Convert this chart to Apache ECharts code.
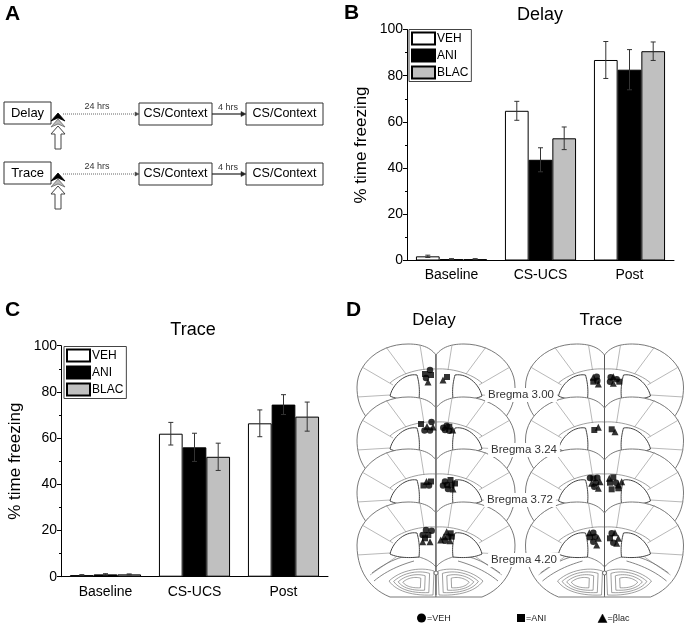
<!DOCTYPE html>
<html>
<head>
<meta charset="UTF-8">
<title></title>
<style>
	* { margin: 0; padding: 0; }
	html, body { width: 100%; height: 100%; background: #fff; overflow: hidden; }
	#main { width: 692px; height: 625px; }
</style>
</head>
<body>
<div id="main"></div>
<script src="https://cdn.jsdelivr.net/npm/echarts@6/dist/echarts.min.js"></script>
<script>
	// ---- B / C : % time freezing ----
	var categories = ['Baseline', 'CS-UCS', 'Post'];
	var groups = ['VEH', 'ANI', 'BLAC'];
	var groupColors = ['#ffffff', '#000000', '#c0c0c0'];
	var yTicks = [0, 20, 40, 60, 80, 100];

	var delayVEH = [1.8, 64.8, 86.8];
	var delayANI = [0.6, 43.6, 82.6];
	var delayBLAC = [0.6, 52.9, 90.6];
	var delayVEHErr = [0.5, 4.1, 8.0];
	var delayANIErr = [0.2, 5.2, 8.7];
	var delayBLACErr = [0.2, 4.9, 4.0];

	var traceVEH = [0.7, 61.9, 66.4];
	var traceANI = [1.0, 56.0, 74.5];
	var traceBLAC = [1.0, 51.9, 69.3];
	var traceVEHErr = [0.2, 4.9, 5.8];
	var traceANIErr = [0.3, 6.1, 4.3];
	var traceBLACErr = [0.2, 5.9, 6.3];

	// ---- D : cannula sites (panel units, px from panel corner) ----
	var vehSites = [
		[90, 75], [86, 83],
		[91.5, 127], [84.5, 135.5], [90, 135.5], [106.7, 130.7], [105, 135], [109.3, 135.7], [103.3, 132.7],
		[89, 190.5], [105, 186.5], [107, 190], [108, 194], [103, 190.5],
		[86, 235], [91.7, 235.7], [82.7, 240], [108.3, 241.7], [105, 245.7],
		[256.7, 81.7], [257.3, 85.7], [270.7, 82.3], [270, 86.7], [276.7, 84.3],
		[250, 183], [257.3, 182.7], [256, 187.7], [254.3, 191.7], [276, 187.7],
		[253.3, 237.7], [255, 241.7], [253.3, 246.7], [271.7, 238.3], [273.3, 247.7]
	];
	var aniSites = [
		[91, 80], [85, 79], [107, 82],
		[81, 129], [109.3, 131.7],
		[83.5, 190.5], [91, 186.5], [110.5, 185], [111.5, 190.5], [115, 188.5],
		[88.3, 240], [85, 243.3], [110.7, 238.3], [111.7, 241.7],
		[253.3, 86.7], [279.3, 86.7],
		[254.3, 135], [271.7, 134.3],
		[253.3, 183.3], [273.3, 182.3], [270, 187.7], [271.7, 194.3], [278.3, 193.3],
		[250, 242.3], [270, 243.3]
	];
	var blacSites = [
		[88, 87], [103, 85],
		[87, 131.5], [93, 132], [112.7, 135],
		[86.5, 186.5], [113, 194],
		[82.7, 246.7], [90, 246.7], [106.7, 236.7], [104, 241.7], [100.7, 245], [110, 245.7],
		[253.3, 82.3], [258.3, 89], [273.3, 81.7], [273.3, 88.3],
		[258.3, 132.3], [275, 136.7],
		[251.7, 188.3], [260, 186.7], [258.3, 193.3], [269.3, 183.3], [281.7, 186.7], [278.3, 190],
		[249.3, 237.7], [258.3, 243.3], [256.7, 250], [275, 237.7], [278.3, 243.3], [276.7, 248.3]
	];
	var sectionMid = [96, 264.5];            // Delay, Trace midlines
	var sectionTop = [80, 133, 185, 238];    // level of the lobes, per section
	var bregma = ['Bregma 3.00', 'Bregma 3.24', 'Bregma 3.72', 'Bregma 4.20'];

	var FONT = '"Liberation Sans", Arial, sans-serif';
	var BAR_W = 23.7;

	var chart = echarts.init(document.getElementById('main'));

	function barSeries(name, data, k, gi) {
		return {
			name: name, type: 'bar', xAxisIndex: gi, yAxisIndex: gi,
			data: data, barWidth: BAR_W, barGap: '0%',
			itemStyle: { color: groupColors[k], borderColor: '#000', borderWidth: 1 },
			silent: true
		};
	}

	function errSeries(name, vals, errs, k, gi) {
		return {
			name: name + ' err', type: 'custom', xAxisIndex: gi, yAxisIndex: gi,
			encode: { x: 0, y: 1 },
			data: vals.map(function(v, i) { return [i, v, errs[i]]; }),
			renderItem: function(params, api) {
				var i = api.value(0), v = api.value(1), e = api.value(2);
				var hi = api.coord([i, v + e]);
				var lo = api.coord([i, v - e]);
				var x = hi[0] + (k - 1) * BAR_W;
				var c = 2.5;
				var st = { stroke: '#333', lineWidth: 1 };
				return {
					type: 'group',
					children: [
						{ type: 'line', shape: { x1: x, y1: hi[1], x2: x, y2: lo[1] }, style: st },
						{ type: 'line', shape: { x1: x - c, y1: hi[1], x2: x + c, y2: hi[1] }, style: st },
						{ type: 'line', shape: { x1: x - c, y1: lo[1], x2: x + c, y2: lo[1] }, style: st }
					]
				};
			},
			z: 3,
			silent: true
		};
	}

	function xAx(gi) {
		return {
			gridIndex: gi, type: 'category', data: categories,
			axisLine: { lineStyle: { color: '#000', width: 1 } },
			axisTick: { length: 4, lineStyle: { color: '#000' } },
			axisLabel: { fontSize: 14, color: '#000', margin: 8, fontFamily: FONT }
		};
	}

	function yAx(gi) {
		return {
			gridIndex: gi, type: 'value',
			min: yTicks[0], max: yTicks[yTicks.length - 1], interval: yTicks[1] - yTicks[0],
			name: '% time freezing', nameLocation: 'middle', nameGap: 37,
			nameTextStyle: { fontSize: 17, color: '#000', fontFamily: FONT },
			axisLine: { show: true, lineStyle: { color: '#000', width: 1 } },
			axisTick: { show: true, length: 4, lineStyle: { color: '#000' } },
			minorTick: { show: true, splitNumber: 2, length: 2, lineStyle: { color: '#000' } },
			splitLine: { show: false },
			axisLabel: { fontSize: 14, color: '#000', margin: 4, fontFamily: FONT }
		};
	}

	function legendAt(left, top) {
		return {
			data: groups, orient: 'vertical', left: left, top: top,
			icon: 'rect', itemWidth: 23, itemHeight: 12, itemGap: 3,
			padding: [2, 3, 2, 2],
			borderColor: '#444', borderWidth: 1,
			selectedMode: false,
			textStyle: { fontSize: 12, color: '#000', fontFamily: FONT, padding: [0, 0, 0, -3] }
		};
	}

	function siteSeries(name, symbol, data, size) {
		return {
			name: name, type: 'scatter', xAxisIndex: 2, yAxisIndex: 2,
			symbol: symbol, symbolSize: size, data: data,
			itemStyle: { color: '#000' }, z: 5, silent: true
		};
	}

	var option = {
		animation: false,
		backgroundColor: '#fff',
		textStyle: { fontFamily: FONT },
		grid: [
			{ left: 407, top: 29.5, width: 267, height: 231 },
			{ left: 61, top: 345.7, width: 267, height: 231 },
			{ left: 340, top: 295, width: 352, height: 330 }
		],
		xAxis: [xAx(0), xAx(1),
			{ gridIndex: 2, type: 'value', min: 0, max: 352, show: false }],
		yAxis: [yAx(0), yAx(1),
			{ gridIndex: 2, type: 'value', min: 0, max: 330, inverse: true, show: false }],
		legend: [legendAt(409, 29.5), legendAt(64, 346.5)],
		series: [
			barSeries('VEH', delayVEH, 0, 0),
			barSeries('ANI', delayANI, 1, 0),
			barSeries('BLAC', delayBLAC, 2, 0),
			errSeries('VEH', delayVEH, delayVEHErr, 0, 0),
			errSeries('ANI', delayANI, delayANIErr, 1, 0),
			errSeries('BLAC', delayBLAC, delayBLACErr, 2, 0),
			barSeries('VEH', traceVEH, 0, 1),
			barSeries('ANI', traceANI, 1, 1),
			barSeries('BLAC', traceBLAC, 2, 1),
			errSeries('VEH', traceVEH, traceVEHErr, 0, 1),
			errSeries('ANI', traceANI, traceANIErr, 1, 1),
			errSeries('BLAC', traceBLAC, traceBLACErr, 2, 1),
			siteSeries('VEH sites', 'circle', vehSites, 6.5),
			siteSeries('ANI sites', 'rect', aniSites, 6),
			siteSeries('BLAC sites', 'triangle', blacSites, 7)
		]
	};
	chart.setOption(option);

	// ---------- drawings (schematic, section outlines, lettering) ----------
	var g = [];
	var zc = 0;

	function txt(x, y, s, size, opts) {
		opts = opts || {};
		g.push({
			type: 'text', x: x, y: y, z: 10, z2: zc++, silent: true,
			style: {
				text: s, fill: opts.color || '#000',
				font: (opts.bold ? 'bold ' : '') + size + 'px ' + FONT,
				align: opts.align || 'center', verticalAlign: opts.valign || 'middle',
				backgroundColor: opts.bg, padding: opts.bg ? [1, 3] : 0
			}
		});
	}
	function box(x, y, w, h) {
		g.push({ type: 'rect', shape: { x: x, y: y, width: w, height: h }, z: 1, z2: zc++, silent: true,
			style: { fill: '#fff', stroke: '#333', lineWidth: 1 } });
	}
	function poly(pts, fill, stroke, lw) {
		g.push({ type: 'polygon', shape: { points: pts }, z: 1, z2: zc++, silent: true,
			style: { fill: fill, stroke: stroke, lineWidth: lw } });
	}
	function pline(pts, stroke, lw, dash) {
		g.push({ type: 'polyline', shape: { points: pts }, z: 1, z2: zc++, silent: true,
			style: { fill: 'none', stroke: stroke, lineWidth: lw, lineDash: dash || null } });
	}

	// panel letters
	txt(5, 4, 'A', 21, { bold: true, align: 'left', valign: 'top' });
	txt(344, 3, 'B', 21, { bold: true, align: 'left', valign: 'top' });
	txt(5, 300, 'C', 21, { bold: true, align: 'left', valign: 'top' });
	txt(346, 300, 'D', 21, { bold: true, align: 'left', valign: 'top' });

	// chart titles
	txt(540, 15, 'Delay', 18);
	txt(193, 330, 'Trace', 18);

	// panel A schematic
	['Delay', 'Trace'].forEach(function(name, r) {
		var dy = r * 60;
		box(4, 102 + dy, 47, 22);
		txt(27.5, 113 + dy, name, 13);
		// stacked arrow
		poly([[51, 134 + dy], [58, 126 + dy], [65, 134 + dy], [61, 134 + dy], [61, 149 + dy], [55, 149 + dy], [55, 134 + dy]], '#fff', '#444', 1);
		poly([[51, 127 + dy], [58, 119 + dy], [65, 127 + dy], [58, 124 + dy]], '#bbb', '#666', 0.8);
		poly([[51, 121 + dy], [58, 113 + dy], [65, 121 + dy], [58, 118 + dy]], '#000', '#000', 0.8);
		// 24 hrs dotted arrow
		pline([[63, 114 + dy], [136, 114 + dy]], '#666', 1, [1, 1]);
		poly([[135, 112 + dy], [139, 114 + dy], [135, 116 + dy]], '#444', '#444', 0.5);
		txt(97, 107 + dy, '24 hrs', 9, { color: '#333' });
		box(139, 103 + dy, 73, 22);
		txt(175.5, 114 + dy, 'CS/Context', 12.5);
		// 4 hrs arrow
		pline([[212, 114 + dy], [243, 114 + dy]], '#222', 1.2);
		poly([[241, 111.5 + dy], [246, 114 + dy], [241, 116.5 + dy]], '#222', '#222', 0.5);
		txt(228, 108 + dy, '4 hrs', 9, { color: '#333' });
		box(246, 103 + dy, 77, 22);
		txt(284.5, 114 + dy, 'CS/Context', 12.5);
	});

	// panel D sections
	function rel(d) {
		var t = d.trim().split(/[\s,]+/);
		var pts = [], i = 0, cx = 0, cy = 0, cmd = 'M';
		while (i < t.length) {
			if (/^[MLCZ]$/.test(t[i])) { cmd = t[i]; i++; if (cmd === 'Z') continue; }
			if (cmd === 'M' || cmd === 'L') {
				cx = +t[i]; cy = +t[i + 1]; i += 2; pts.push([cx, cy]);
			} else if (cmd === 'C') {
				var x1 = +t[i], y1 = +t[i + 1], x2 = +t[i + 2], y2 = +t[i + 3], x3 = +t[i + 4], y3 = +t[i + 5];
				i += 6;
				for (var s = 1; s <= 14; s++) {
					var u = s / 14, v = 1 - u;
					pts.push([v * v * v * cx + 3 * v * v * u * x1 + 3 * v * u * u * x2 + u * u * u * x3,
						v * v * v * cy + 3 * v * v * u * y1 + 3 * v * u * u * y2 + u * u * u * y3]);
				}
				cx = x3; cy = y3;
			} else { i++; }
		}
		return pts;
	}
	function place(pts, o, sx) {
		return pts.map(function(p) { return [o[0] + sx * p[0], o[1] + p[1]]; });
	}
	function shrink(pts, cx, cy, f) {
		return pts.map(function(p) { return [cx + (p[0] - cx) * f, cy + (p[1] - cy) * f]; });
	}

	var OUTER = rel('M 0 -20 C -6 -28 -15 -31 -28 -31 C -56 -31 -79 -12 -79 12 C -79 30 -72 42 -60 52 L 0 52 Z');
	var OUTER_LAST = rel('M 0 -20 C -6 -28 -15 -31 -28 -31 C -56 -31 -79 -12 -79 12 C -79 38 -66 56 -46 64 L 0 64 Z');
	var LOBE = rel('M -19 0 C -30 -2 -43 8 -46 21 C -38 25 -26 25 -17 24 C -16 15 -17 7 -19 0 Z');
	var RADIAL = [
		rel('M -12 -5 L -16 -30'), rel('M -30 -1 L -50 -28'),
		rel('M -43 10 L -74 -8'), rel('M -46 20 L -79 22'), rel('M -40 24 L -66 42')
	];
	var ARC = rel('M -46 8 C -35 -2 -15 -7 0 -6');
	var VLINE = rel('M -17 24 C -10 26 -4 29 0 34');
	var WINGS = [rel('M -17 24 C -28 20 -45 26 -64 40'), rel('M -22 28 C -36 32 -50 38 -62 48')];
	var OLF = rel('M -2 38 C -14 34 -34 36 -47 48 C -40 58 -24 63 -3 62 Z');

	sectionTop.forEach(function(y0, k) {
		var last = k === sectionTop.length - 1;
		sectionMid.forEach(function(mx) {
			var o = chart.convertToPixel({ gridIndex: 2 }, [mx, y0]);
			[1, -1].forEach(function(sx) {
				poly(place(last ? OUTER_LAST : OUTER, o, sx), '#fff', '#6a6a6a', 0.9);
			});
			[1, -1].forEach(function(sx) {
				RADIAL.forEach(function(r) { pline(place(r, o, sx), '#9a9a9a', 0.7); });
				pline(place(ARC, o, sx), '#888', 0.8);
				if (k >= 2) {
					WINGS.forEach(function(w) { pline(place(w, o, sx), '#666', 0.8); });
				}
				poly(place(LOBE, o, sx), '#fff', '#444', 1);
				pline(place(VLINE, o, sx), '#666', 0.8);
				if (last) {
					[1, 0.8, 0.6, 0.4].forEach(function(f) {
						poly(place(shrink(OLF, -24, 50, f), o, sx), '#fff', '#777', 0.7);
					});
				}
			});
			g.push({ type: 'line', shape: { x1: o[0], y1: o[1] - 20, x2: o[0], y2: o[1] + (last ? 62 : 34) },
				z: 1, z2: zc++, silent: true, style: { stroke: '#555', lineWidth: 0.9 } });
			if (last) {
				g.push({ type: 'circle', shape: { cx: o[0], cy: o[1] + 40, r: 2 }, z: 1, z2: zc++, silent: true,
					style: { fill: '#fff', stroke: '#555', lineWidth: 0.8 } });
			}
		});
	});

	var bregmaPos = [[521, 395], [524, 450], [520, 500], [524, 560]];
	bregma.forEach(function(s, k) {
		txt(bregmaPos[k][0], bregmaPos[k][1], s, 11.5, { color: '#333', bg: '#fff' });
	});
	txt(434, 320, 'Delay', 17);
	txt(601, 320, 'Trace', 17);

	// panel D key
	g.push({ type: 'circle', shape: { cx: 421.5, cy: 618, r: 4.5 }, z: 10, silent: true, style: { fill: '#000' } });
	txt(427, 618.5, '=VEH', 9, { align: 'left', color: '#222' });
	g.push({ type: 'rect', shape: { x: 517, y: 614, width: 8, height: 8 }, z: 10, silent: true, style: { fill: '#000' } });
	txt(526, 618.5, '=ANI', 9, { align: 'left', color: '#222' });
	poly([[598, 622.5], [602.5, 614], [607, 622.5]], '#000', '#000', 0.5);
	g[g.length - 1].z = 10;
	txt(607.5, 618.5, '=\u03b2lac', 9, { align: 'left', color: '#222' });

	chart.setOption({ graphic: { elements: g } });
</script>
</body>
</html>
